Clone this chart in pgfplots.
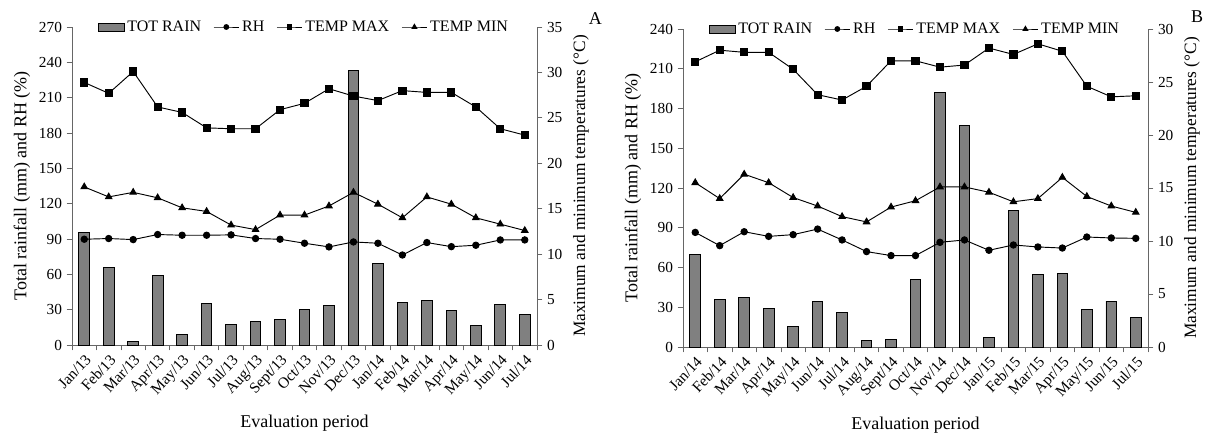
\documentclass[border=0pt]{standalone}
\usepackage{fontspec}
\setmainfont{Liberation Serif}
\usepackage{pgfplots}
\usepackage{pgfplotstable}
\pgfplotsset{compat=1.18}
\definecolor{barfill}{HTML}{808080}

% x = month index, rain in mm, rh in %, temperatures in degC
\pgfplotstableread{
x rain rh tmax tmin
0 95.8 89.8 28.9 17.4
1 65.6 90.4 27.7 16.3
2 2.6 89.5 30.1 16.8
3 59.1 93.8 26.2 16.2
4 9.1 93.2 25.6 15.1
5 35.5 93.2 23.9 14.7
6 17.3 93.5 23.8 13.2
7 19.6 90.4 23.8 12.7
8 21.3 89.8 25.9 14.3
9 29.8 86.4 26.6 14.3
10 33.5 83.3 28.2 15.3
11 233.0 87.5 27.4 16.8
12 69.6 86.4 26.9 15.5
13 36.1 76.4 28.0 14.0
14 37.5 87.0 27.8 16.3
15 29.3 83.5 27.8 15.5
16 16.2 84.7 26.2 14.0
17 34.1 89.2 23.8 13.3
18 26.1 89.2 23.1 12.6
}\dataA

\pgfplotstableread{
x rain rh tmax tmin
0 70.0 86.5 26.9 15.5
1 36.1 76.5 28.0 14.0
2 37.1 87.0 27.8 16.3
3 29.1 83.5 27.8 15.5
4 15.8 84.8 26.2 14.1
5 34.1 89.0 23.8 13.3
6 26.1 80.8 23.3 12.3
7 4.8 72.0 24.6 11.8
8 5.5 69.0 27.0 13.2
9 50.7 69.0 27.0 13.8
10 191.8 79.0 26.4 15.1
11 167.3 80.8 26.6 15.1
12 7.5 73.0 28.2 14.6
13 103.1 77.0 27.6 13.7
14 54.9 75.5 28.6 14.0
15 55.7 74.7 27.9 16.0
16 28.1 83.0 24.6 14.2
17 34.6 82.3 23.6 13.3
18 22.1 82.0 23.7 12.7
}\dataB

\pgfplotsset{
  base/.style={
    scale only axis, width=348.75pt, height=238.5pt,
    anchor=south west,
    xmin=-0.5, xmax=18.5,
    /pgf/number format/assume math mode=true,
    tick align=outside,
    axis line style={black!60, line width=0.6pt},
    tick style={black!60, line width=0.6pt},
    major tick length=4pt, minor tick length=4pt,
    tick label style={font=\fontsize{11.5}{12}\selectfont},
  },
  leftax/.style={
    base,
    axis x line*=bottom, axis y line*=left,
    ymin=0,
    xtick={0,...,18},
    minor xtick={-0.5,0.5,...,18.5},
    major x tick style={draw=none},
    x tick label style={rotate=47, anchor=north east, inner sep=1.5pt,
      font=\fontsize{11.5}{12}\selectfont},
    every axis y label/.style={at={(axis description cs:0,0.5)}, xshift=-37.5pt,
      rotate=90, anchor=center, font=\fontsize{13.5}{14}\selectfont},
    every axis x label/.style={at={(axis description cs:0.5,0)}, yshift=-58.5pt,
      anchor=center, font=\fontsize{13.5}{14}\selectfont},
    xlabel={Evaluation period},
    ylabel={Total rainfall (mm) and RH (\%)},
  },
  rightax/.style={
    base,
    axis x line=none, axis y line*=right,
    ymin=0, ymax=35, ytick={0,5,...,35},
    every axis y label/.style={at={(axis description cs:1,0.5)}, xshift=33pt,
      rotate=90, anchor=center, font=\fontsize{13}{14}\selectfont},
    ylabel={Maximum and minimum temperatures (°C)},
    legend style={at={(0.5,1)}, anchor=center, draw=none, fill=none,
      legend columns=4, font=\fontsize{12}{13}\selectfont,
      /tikz/every even column/.append style={column sep=7pt},
      legend cell align=left},
  },
  rainlegend/.style={legend image code/.code={\draw[##1] (0pt,-3pt) rectangle (19pt,3pt);}},
  linelegend/.style={legend image code/.code={\draw[mark repeat=2,mark phase=2,##1] plot coordinates {(0pt,0pt) (9.5pt,0pt) (19pt,0pt)};}},
  rainbar/.style={ybar, bar width=8pt, fill=barfill, draw=black, line width=0.7pt},
  rhline/.style={black, line width=0.7pt, mark=*, mark size=2.4pt},
  maxline/.style={black, line width=0.7pt, mark=square*, mark size=2.7pt},
  minline/.style={black, line width=0.7pt, mark=triangle*, mark size=2.8pt},
}

\begin{document}
\begin{tikzpicture}
\useasboundingbox (0,0) rectangle (907.5pt,324.75pt);

% ---- panel A ----
\begin{axis}[leftax, at={(54pt,66pt)}, ymax=270, ytick={0,30,...,270},
  xticklabels={Jan/13,Feb/13,Mar/13,Apr/13,May/13,Jun/13,Jul/13,Aug/13,Sept/13,Oct/13,Nov/13,Dec/13,Jan/14,Feb/14,Mar/14,Apr/14,May/14,Jun/14,Jul/14}]
\addplot[rainbar] table[x=x, y=rain] {\dataA};
\addplot[rhline] table[x=x, y=rh] {\dataA};
\end{axis}
\begin{axis}[rightax, at={(54pt,66pt)}]
\addlegendimage{rainlegend, fill=barfill, draw=black, line width=0.7pt}
\addlegendentry{TOT RAIN}
\addlegendimage{linelegend, black, line width=0.7pt, mark=*, mark size=1.8pt}
\addlegendentry{RH}
\addplot[maxline, forget plot] table[x=x, y=tmax] {\dataA};
\addlegendimage{linelegend, black, line width=0.7pt, mark=square*, mark size=1.8pt}
\addlegendentry{TEMP MAX}
\addplot[minline, forget plot] table[x=x, y=tmin] {\dataA};
\addlegendimage{linelegend, black, line width=0.7pt, mark=triangle*, mark size=2pt}
\addlegendentry{TEMP MIN}
\end{axis}
\node[font=\fontsize{13.5}{14}\selectfont] at (446.5pt,311pt) {A};

% ---- panel B ----
\begin{axis}[leftax, at={(512.25pt,64.5pt)}, ymax=240, ytick={0,30,...,240},
  xticklabels={Jan/14,Feb/14,Mar/14,Apr/14,May/14,Jun/14,Jul/14,Aug/14,Sept/14,Oct/14,Nov/14,Dec/14,Jan/15,Feb/15,Mar/15,Apr/15,May/15,Jun/15,Jul/15}]
\addplot[rainbar] table[x=x, y=rain] {\dataB};
\addplot[rhline] table[x=x, y=rh] {\dataB};
\end{axis}
\begin{axis}[rightax, at={(512.25pt,64.5pt)}, ymax=30, ytick={0,5,...,30}]
\addlegendimage{rainlegend, fill=barfill, draw=black, line width=0.7pt}
\addlegendentry{TOT RAIN}
\addlegendimage{linelegend, black, line width=0.7pt, mark=*, mark size=1.8pt}
\addlegendentry{RH}
\addplot[maxline, forget plot] table[x=x, y=tmax] {\dataB};
\addlegendimage{linelegend, black, line width=0.7pt, mark=square*, mark size=1.8pt}
\addlegendentry{TEMP MAX}
\addplot[minline, forget plot] table[x=x, y=tmin] {\dataB};
\addlegendimage{linelegend, black, line width=0.7pt, mark=triangle*, mark size=2pt}
\addlegendentry{TEMP MIN}
\end{axis}
\node[font=\fontsize{13.5}{14}\selectfont] at (897.75pt,312pt) {B};
\end{tikzpicture}
\end{document}
